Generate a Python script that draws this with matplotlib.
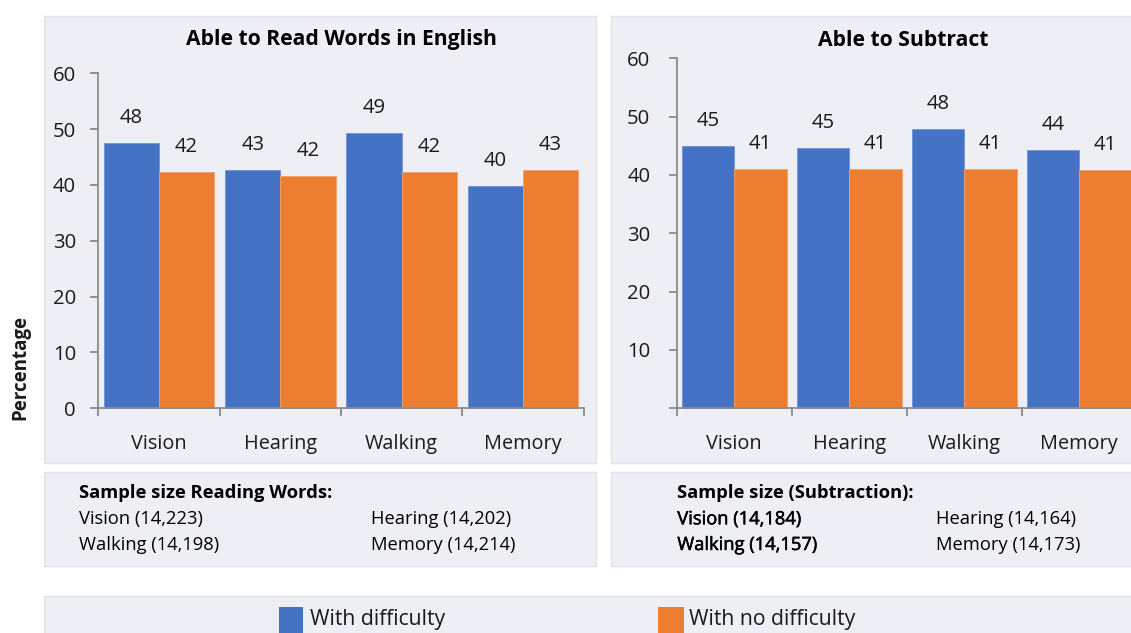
import matplotlib
matplotlib.use("Agg")
import matplotlib.pyplot as plt
from matplotlib.patches import Rectangle
import matplotlib.patheffects as pe

plt.rcParams['font.family'] = ['Open Sans', 'DejaVu Sans']

# ---------------- data ----------------
categories = ['Vision', 'Hearing', 'Walking', 'Memory']
read_with = [47.6, 42.6, 49.3, 39.9]
read_without = [42.3, 41.6, 42.3, 42.7]
sub_with = [45.0, 44.6, 47.9, 44.2]
sub_without = [41.0, 41.1, 41.1, 40.9]
read_title = 'Able to Read Words in English'
sub_title = 'Able to Subtract'
read_samples = ['Vision (14,223)', 'Hearing (14,202)', 'Walking (14,198)', 'Memory (14,214)']
sub_samples = ['Vision (14,184)', 'Hearing (14,164)', 'Walking (14,157)', 'Memory (14,173)']
read_sample_head = 'Sample size Reading Words:'
sub_sample_head = 'Sample size (Subtraction):'
series_names = ['With difficulty', 'With no difficulty']
yticks_read = [0, 10, 20, 30, 40, 50, 60]
yticks_sub = [0, 10, 20, 30, 40, 50, 60]

BLUE = '#4472C4'
ORANGE = '#ED7D31'
PANEL = '#EEEFF5'
EDGE = '#E2E3EA'
AXC = '#8C8C8C'
TXT = '#1a1a1a'

FS_TITLE = 15.2
FS_TICK = 14.6
FS_VAL = 14.6
FS_CAT = 14.3
FS_LEG = 15.2
FS_SMALL = 13.2
FS_YLAB = 13.5

W, H = 1131, 633
fig = plt.figure(figsize=(W / 100, H / 100), dpi=100)


def fx(x):
    return x / W


def fy(y):
    return 1 - y / H


def box(x0, y0, x1, y1, color=PANEL, edge=EDGE):
    fig.patches.append(Rectangle((fx(x0), fy(y1)), fx(x1) - fx(x0), fy(y0) - fy(y1),
                                 transform=fig.transFigure, facecolor=color,
                                 edgecolor=edge, linewidth=1, zorder=-10))


# panel backgrounds
box(43.7, 16, 596, 462.7)
box(610.7, 16, 1140, 462.7)
box(43.7, 472.3, 596, 566)
box(610.7, 472.3, 1140, 566)
box(43.7, 596, 1140, 640)


def make_axes(x0, x1, ytop, ybot, with_vals, without_vals, yticks, show_zero):
    ax = fig.add_axes([fx(x0), fy(ybot), fx(x1) - fx(x0), fy(ytop) - fy(ybot)])
    ax.set_facecolor('none')
    ax.patch.set_alpha(0)
    n = len(categories)
    bw = 0.455
    xs = list(range(n))
    ax.bar([x - bw / 2 for x in xs], with_vals, width=bw, color=BLUE,
           edgecolor='#6f93d6', linewidth=0.6, clip_on=False, zorder=2)
    ax.bar([x + bw / 2 for x in xs], without_vals, width=bw, color=ORANGE,
           edgecolor='#f2a06b', linewidth=0.6, clip_on=False, zorder=2)
    for x, v in zip(xs, with_vals):
        ax.annotate(f'{v:.0f}', xy=(x - bw / 2, v), xytext=(0, 18), textcoords='offset points',
                    ha='center', va='center', fontsize=FS_VAL, color=TXT)
    for x, v in zip(xs, without_vals):
        ax.annotate(f'{v:.0f}', xy=(x + bw / 2, v), xytext=(0, 18), textcoords='offset points',
                    ha='center', va='center', fontsize=FS_VAL, color=TXT)
    ax.set_xlim(-0.5, n - 0.5)
    ax.set_ylim(0, 60)
    ax.set_yticks(yticks)
    ax.set_yticklabels([str(t) if (t != 0 or show_zero) else '' for t in yticks])
    ax.set_xticks([i - 0.5 for i in range(n + 1)])
    ax.set_xticklabels([])
    for c, x in zip(categories, xs):
        ax.annotate(c, xy=(x, 0), xycoords=('data', 'axes fraction'), xytext=(0, -25.5),
                    textcoords='offset points', ha='center', va='center', fontsize=FS_CAT,
                    color=TXT)
    for s in ['top', 'right']:
        ax.spines[s].set_visible(False)
    for s in ['left', 'bottom']:
        ax.spines[s].set_color(AXC)
        ax.spines[s].set_linewidth(1.3)
        ax.spines[s].set_zorder(3)
    ax.tick_params(axis='both', colors=AXC, width=1.3, length=5.5, direction='out')
    ax.tick_params(axis='y', labelcolor=TXT, labelsize=FS_TICK, pad=10.5 if show_zero else 13.5)
    return ax


ax1 = make_axes(98.3, 583.7, 73.3, 408.3, read_with, read_without, yticks_read, True)
ax2 = make_axes(676.7, 1136.7, 58.3, 408.3, sub_with, sub_without, yticks_sub, False)

# titles
fig.text(fx(341), fy(40), read_title, ha='center', va='center', fontsize=FS_TITLE,
         fontweight='bold', color='black')
fig.text(fx(903), fy(40), sub_title, ha='center', va='center', fontsize=FS_TITLE,
         fontweight='bold', color='black')

# y label
fig.text(fx(20.7), fy(367), 'Percentage', rotation=90, ha='center', va='center',
         fontsize=FS_YLAB, fontweight='bold', color=TXT)


# sample size boxes
def sample_block(x_left, x_right, head, items, emphasize=False):
    fig.text(fx(x_left), fy(493.3), head, ha='left', va='center', fontsize=FS_SMALL,
             fontweight='bold', color='black')
    pos = [(x_left, 519.3), (x_right, 519.3), (x_left, 545), (x_right, 545)]
    for i, (t, (x, y)) in enumerate(zip(items, pos)):
        kw = {}
        if emphasize and i in (0, 2):
            kw['path_effects'] = [pe.withStroke(linewidth=0.35, foreground='black')]
        fig.text(fx(x), fy(y), t, ha='left', va='center', fontsize=FS_SMALL, color='black', **kw)


sample_block(79, 371, read_sample_head, read_samples)
sample_block(677.3, 936, sub_sample_head, sub_samples, emphasize=True)

# legend
for (x0, x1, tx), col, name in zip([(279, 302.7, 310.3), (658.3, 684, 688.7)],
                                   [BLUE, ORANGE], series_names):
    fig.patches.append(Rectangle((fx(x0), fy(640)), fx(x1) - fx(x0), fy(606.7) - fy(640),
                                 transform=fig.transFigure, facecolor=col,
                                 edgecolor='none', zorder=1))
    fig.text(fx(tx), fy(619), name, ha='left', va='center', fontsize=FS_LEG, color=TXT)

fig.savefig('out.png', dpi=100, facecolor='white')
